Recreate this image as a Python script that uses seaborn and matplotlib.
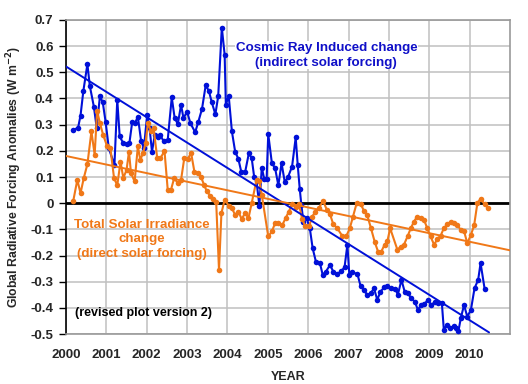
import numpy as np
import pandas as pd
import matplotlib
matplotlib.use("Agg")
import matplotlib.pyplot as plt
import seaborn as sns

# cosmic ray induced forcing (blue)
cr_year = [2000.18, 2000.30, 2000.36, 2000.43, 2000.53, 2000.59, 2000.69, 2000.76, 2000.84, 2000.91,
           2000.98, 2001.06, 2001.20, 2001.27, 2001.33, 2001.42, 2001.50, 2001.57, 2001.64, 2001.71,
           2001.78, 2001.86, 2001.93, 2002.01, 2002.07, 2002.13, 2002.20, 2002.27, 2002.34, 2002.42,
           2002.52, 2002.62, 2002.69, 2002.77, 2002.85, 2002.91, 2003.00, 2003.08, 2003.20, 2003.28,
           2003.37, 2003.46, 2003.54, 2003.61, 2003.70, 2003.77, 2003.86, 2003.93, 2003.96, 2004.03,
           2004.11, 2004.19, 2004.27, 2004.34, 2004.44, 2004.53, 2004.60, 2004.66, 2004.72, 2004.79,
           2004.85, 2004.91, 2004.97, 2005.01, 2005.10, 2005.18, 2005.26, 2005.34, 2005.42, 2005.50,
           2005.60, 2005.69, 2005.74, 2005.79, 2005.83, 2005.88, 2005.96, 2006.04, 2006.11, 2006.19,
           2006.29, 2006.36, 2006.44, 2006.54, 2006.62, 2006.72, 2006.82, 2006.90, 2006.97, 2007.02,
           2007.09, 2007.22, 2007.30, 2007.38, 2007.46, 2007.55, 2007.63, 2007.71, 2007.79, 2007.88,
           2007.96, 2008.04, 2008.16, 2008.22, 2008.31, 2008.39, 2008.47, 2008.55, 2008.64, 2008.72,
           2008.79, 2008.87, 2008.97, 2009.05, 2009.13, 2009.22, 2009.31, 2009.36, 2009.43, 2009.51,
           2009.60, 2009.67, 2009.72, 2009.78, 2009.86, 2009.94, 2010.03, 2010.12, 2010.21, 2010.27,
           2010.37]
cr_val = [0.279, 0.289, 0.335, 0.429, 0.531, 0.448, 0.369, 0.289, 0.408, 0.386,
          0.312, 0.210, 0.146, 0.395, 0.255, 0.229, 0.225, 0.229, 0.310, 0.306,
          0.331, 0.238, 0.210, 0.338, 0.287, 0.197, 0.261, 0.253, 0.259, 0.236,
          0.242, 0.404, 0.327, 0.302, 0.376, 0.325, 0.350, 0.306, 0.271, 0.312,
          0.361, 0.450, 0.429, 0.386, 0.340, 0.408, 0.671, 0.567, 0.376, 0.411,
          0.274, 0.197, 0.169, 0.121, 0.121, 0.191, 0.172, 0.102, 0.083, -0.009,
          0.136, 0.093, 0.093, 0.264, 0.153, 0.134, 0.068, 0.153, 0.080, 0.100,
          0.140, 0.251, 0.146, 0.055, -0.006, -0.070, -0.057, -0.096, -0.172, -0.223,
          -0.229, -0.274, -0.261, -0.236, -0.261, -0.271, -0.259, -0.245, -0.159, -0.276,
          -0.264, -0.271, -0.318, -0.331, -0.350, -0.344, -0.325, -0.369, -0.338, -0.322,
          -0.318, -0.325, -0.327, -0.350, -0.293, -0.338, -0.344, -0.363, -0.376, -0.408,
          -0.389, -0.386, -0.369, -0.389, -0.378, -0.383, -0.380, -0.484, -0.465, -0.475,
          -0.471, -0.478, -0.490, -0.439, -0.389, -0.433, -0.408, -0.325, -0.293, -0.229,
          -0.327]

# total solar irradiance forcing (orange)
tsi_year = [2000.18, 2000.28, 2000.36, 2000.44, 2000.53, 2000.63, 2000.71, 2000.77, 2000.84, 2000.92,
            2001.02, 2001.10, 2001.19, 2001.27, 2001.35, 2001.42, 2001.50, 2001.56, 2001.61, 2001.70,
            2001.78, 2001.84, 2001.91, 2001.97, 2002.03, 2002.11, 2002.17, 2002.26, 2002.34, 2002.44,
            2002.52, 2002.60, 2002.68, 2002.77, 2002.85, 2002.93, 2003.01, 2003.10, 2003.18, 2003.26,
            2003.34, 2003.42, 2003.49, 2003.57, 2003.65, 2003.72, 2003.79, 2003.85, 2003.93, 2004.03,
            2004.11, 2004.19, 2004.27, 2004.35, 2004.44, 2004.52, 2004.60, 2004.72, 2004.79, 2004.85,
            2005.01, 2005.10, 2005.18, 2005.26, 2005.36, 2005.44, 2005.52, 2005.60, 2005.69, 2005.77,
            2005.85, 2005.93, 2006.02, 2006.10, 2006.18, 2006.26, 2006.37, 2006.46, 2006.54, 2006.62,
            2006.72, 2006.84, 2006.94, 2007.03, 2007.11, 2007.20, 2007.30, 2007.38, 2007.46, 2007.55,
            2007.65, 2007.73, 2007.81, 2007.89, 2007.96, 2008.03, 2008.21, 2008.29, 2008.37, 2008.46,
            2008.54, 2008.62, 2008.70, 2008.79, 2008.87, 2008.95, 2009.03, 2009.12, 2009.20, 2009.28,
            2009.36, 2009.45, 2009.53, 2009.61, 2009.69, 2009.78, 2009.86, 2009.94, 2010.03, 2010.11,
            2010.19, 2010.27, 2010.37, 2010.46]
tsi_val = [0.009, 0.089, 0.038, 0.096, 0.149, 0.274, 0.185, 0.353, 0.306, 0.261,
           0.217, 0.210, 0.096, 0.068, 0.159, 0.096, 0.127, 0.197, 0.115, 0.083,
           0.217, 0.166, 0.191, 0.229, 0.306, 0.274, 0.287, 0.172, 0.172, 0.200,
           0.051, 0.051, 0.096, 0.076, 0.089, 0.172, 0.169, 0.191, 0.121, 0.115,
           0.102, 0.070, 0.045, 0.029, 0.017, 0.006, -0.255, -0.038, 0.013, -0.009,
           -0.019, -0.045, -0.032, -0.060, -0.038, -0.057, 0.000, 0.089, 0.083, 0.032,
           -0.127, -0.108, -0.076, -0.076, -0.083, -0.057, -0.032, -0.004, -0.013, -0.004,
           -0.060, -0.089, -0.089, -0.051, -0.032, -0.019, 0.009, -0.025, -0.042, -0.080,
           -0.096, -0.124, -0.127, -0.096, -0.051, 0.000, -0.003, -0.029, -0.045, -0.093,
           -0.149, -0.185, -0.185, -0.159, -0.146, -0.096, -0.178, -0.166, -0.159, -0.127,
           -0.096, -0.070, -0.051, -0.055, -0.064, -0.096, -0.127, -0.159, -0.136, -0.124,
           -0.096, -0.080, -0.070, -0.076, -0.083, -0.102, -0.106, -0.153, -0.121, -0.085,
           0.000, 0.017, -0.004, -0.019]

# where the two linear trend lines are drawn
cr_trend_span = [2000.0, 2010.48]
tsi_trend_span = [2000.0, 2011.0]

year_ticks = list(range(2000, 2011))
y_ticks = [0.7, 0.6, 0.5, 0.4, 0.3, 0.2, 0.1, 0.0, -0.1, -0.2, -0.3, -0.4, -0.5]
y_labels = ["0.7", "0.6", "0.5", "0.4", "0.3", "0.2", "0.1", "0", "-0.1", "-0.2", "-0.3", "-0.4", "-0.5"]

blue = "#0010D8"
orange = "#F07818"

sns.set_theme(style="whitegrid")
plt.rcParams['font.family'] = ['Liberation Sans', 'DejaVu Sans']

cr = pd.DataFrame({"year": cr_year, "val": cr_val})
tsi = pd.DataFrame({"year": tsi_year, "val": tsi_val})

# linear fits like the excel trendlines
cr_fit = np.polyfit(cr["year"] - 2000, cr["val"], 1)
tsi_fit = np.polyfit(tsi["year"] - 2000, tsi["val"], 1)
cr_tr = pd.DataFrame({"year": cr_trend_span})
cr_tr["val"] = np.polyval(cr_fit, cr_tr["year"] - 2000)
tsi_tr = pd.DataFrame({"year": tsi_trend_span})
tsi_tr["val"] = np.polyval(tsi_fit, tsi_tr["year"] - 2000)

fig = plt.figure(figsize=(5.28, 3.84), dpi=100)
ax = fig.add_axes([0.125, 0.130, 0.841, 0.818])

sns.lineplot(data=cr, x="year", y="val", ax=ax, color=blue, lw=1.5, marker="o",
             markersize=4, markeredgewidth=0, zorder=3)
sns.lineplot(data=tsi, x="year", y="val", ax=ax, color=orange, lw=1.5, marker="o",
             markersize=4, markeredgewidth=0, zorder=4)
sns.lineplot(data=cr_tr, x="year", y="val", ax=ax, color=blue, lw=1.4, zorder=5)
sns.lineplot(data=tsi_tr, x="year", y="val", ax=ax, color=orange, lw=1.4, zorder=5)

ax.axhline(0, color="black", lw=2, zorder=2)

ax.set_xlim(2000, 2011)
ax.set_ylim(-0.5, 0.7)
ax.set_xticks(year_ticks)
ax.set_xticklabels([str(y) for y in year_ticks], fontsize=9.5, fontweight="bold")
ax.set_yticks(y_ticks)
ax.set_yticklabels(y_labels, fontsize=9.5, fontweight="bold")
ax.grid(True, color="#C0C0C0", lw=1.1)
ax.tick_params(axis="y", length=5, width=1, color="black", pad=4, left=True)
ax.tick_params(axis="x", length=0, pad=11)

for s in ["top", "right", "bottom"]:
    ax.spines[s].set_color("#999999")
    ax.spines[s].set_linewidth(1.2)
ax.spines["left"].set_color("black")
ax.spines["left"].set_linewidth(1.2)

ax.set_xlabel("YEAR", fontsize=9, fontweight="bold", labelpad=7)
ax.set_ylabel("Global Radiative Forcing Anomalies (W m$^{\\mathbf{-2}}$)", fontsize=8.8,
              fontweight="bold", labelpad=5)

ax.text(2006.45, 0.565, "Cosmic Ray Induced change\n(indirect solar forcing)", color="#1010C8",
        fontsize=9.6, fontweight="bold", ha="center", va="center", linespacing=1.3,
        bbox=dict(facecolor="white", edgecolor="none", pad=0.5), zorder=6)
ax.text(2001.88, -0.138, "Total Solar Irradiance\nchange\n(direct solar forcing)", color=orange,
        fontsize=9.6, fontweight="bold", ha="center", va="center", linespacing=1.3, zorder=6)
ax.text(2000.22, -0.418, "(revised plot version 2)", color="black", fontsize=9,
        fontweight="bold", ha="left", va="center", zorder=6)

fig.savefig("out.png", dpi=100)
